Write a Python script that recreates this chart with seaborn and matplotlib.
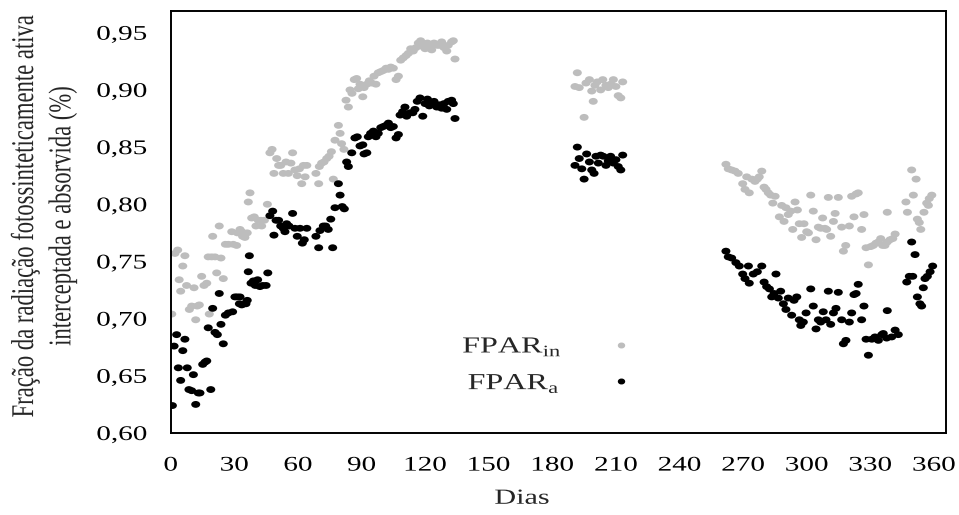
import matplotlib
matplotlib.use("Agg")
import matplotlib.pyplot as plt
import numpy as np
import pandas as pd
import seaborn as sns
from matplotlib.path import Path
from matplotlib.lines import Line2D
from matplotlib.patheffects import AbstractPathEffect
from matplotlib.transforms import Affine2D

# ---------------- dados ----------------
# FPAR interceptada (FPARin)
dias_in = [
    0.5, 2.0, 3.3, 4.0, 4.7, 5.7, 6.7, 7.5, 8.8, 9.9, 11.0, 11.8, 12.5, 13.5, 14.6, 15.7,
    17.0, 17.7, 18.2, 19.3, 19.8, 20.9, 21.7, 22.9, 23.7, 24.8, 25.8, 27.2, 28.8, 29.5,
    31.1, 31.4, 32.7, 33.5, 33.9, 35.0, 36.1, 36.6, 37.4, 38.2, 39.4, 40.2, 41.3, 42.5,
    42.9, 44.2, 45.6, 46.8, 47.8, 48.7, 50.0, 50.9, 51.9, 53.1, 54.4, 55.5, 56.7, 57.5,
    58.6, 59.7, 60.7, 61.8, 62.6, 63.4, 64.2, 68.5, 69.8, 70.1, 71.2, 72.3, 73.6, 74.7,
    75.8, 76.7, 77.5, 79.1, 79.9, 80.6, 81.7,
    82.7, 83.8, 84.6, 85.5, 86.6, 87.7, 88.5, 89.3, 90.6, 91.2, 92.5, 93.7, 94.8, 95.9,
    96.8, 97.9, 99.1, 100.3, 101.6, 102.7, 103.8, 105.0, 106.3, 107.4, 108.5, 109.7,
    111.0, 112.1, 113.2, 114.4, 115.7, 116.8, 117.9, 118.9, 120.0, 121.1, 122.3, 123.1,
    124.2, 125.5, 126.7, 127.8, 128.9, 130.2, 130.9, 132.5, 133.3, 134.1,
    190.7, 191.8, 192.7, 195.0, 195.9, 197.5, 198.6, 199.3, 200.1, 201.2, 202.8, 203.8,
    205.3, 206.4, 207.5, 208.8, 210.0, 211.1, 212.3, 213.2,
    261.9, 263.0, 264.6, 266.2, 267.7, 269.8, 270.9, 271.7, 272.9, 274.1, 275.6, 276.7,
    277.6, 278.8, 279.9, 280.8, 281.9, 283.0, 284.0, 285.1, 287.1, 288.2, 289.3, 290.2,
    291.3, 292.5, 293.4, 294.5, 295.6, 296.5, 297.6, 298.7, 300.0, 300.8, 301.9, 303.1,
    304.4, 305.5, 306.6, 307.5, 308.6, 309.4, 310.2, 311.3, 312.6, 313.4, 314.9, 316.5,
    317.3, 318.4, 320.1, 321.2, 322.3, 323.3, 324.3, 325.9, 327.0, 328.0, 329.1, 330.2,
    331.4, 332.7, 333.8, 334.9, 335.8,
    336.9, 338.0, 339.3, 340.6, 341.7, 338.0, 346.8, 347.5, 349.5, 350.3, 351.6, 352.2,
    353.1, 353.8, 355.3, 356.6, 357.4, 357.8, 359.0,
]
fpar_in = [
    0.704, 0.757, 0.760, 0.734, 0.724, 0.746, 0.755, 0.729, 0.708, 0.711, 0.727, 0.699,
    0.711, 0.712, 0.737, 0.729, 0.731, 0.754, 0.704, 0.754, 0.772, 0.754, 0.740, 0.781,
    0.753, 0.735, 0.765, 0.765, 0.776, 0.765, 0.764, 0.775, 0.778, 0.776, 0.772, 0.771,
    0.775, 0.802, 0.810, 0.788, 0.789, 0.781, 0.786, 0.786, 0.781, 0.786, 0.800, 0.845,
    0.848, 0.827, 0.840, 0.834, 0.834, 0.827, 0.837, 0.827, 0.836, 0.845, 0.830, 0.825,
    0.831, 0.818, 0.834, 0.824, 0.834, 0.827, 0.818, 0.833, 0.836, 0.837, 0.840, 0.842,
    0.846, 0.822, 0.856, 0.869, 0.862, 0.853, 0.848,
    0.891, 0.885, 0.900, 0.897, 0.909, 0.910, 0.901, 0.905, 0.894, 0.902, 0.905, 0.908,
    0.906, 0.912, 0.905, 0.915, 0.916, 0.917, 0.919, 0.918, 0.920, 0.919, 0.909, 0.912,
    0.926, 0.928, 0.930, 0.932, 0.936, 0.934, 0.937, 0.941, 0.943, 0.938, 0.936, 0.941,
    0.939, 0.935, 0.941, 0.939, 0.939, 0.942, 0.937, 0.934, 0.939, 0.942, 0.943, 0.927,
    0.903, 0.915, 0.902, 0.876, 0.906, 0.909, 0.899, 0.890, 0.904, 0.907, 0.900, 0.909,
    0.904, 0.902, 0.905, 0.909, 0.903, 0.895, 0.893, 0.907,
    0.835, 0.831, 0.830, 0.829, 0.827, 0.818, 0.813, 0.824, 0.810, 0.822, 0.820, 0.822,
    0.824, 0.829, 0.815, 0.813, 0.810, 0.808, 0.801, 0.807, 0.789, 0.799, 0.785, 0.797,
    0.791, 0.794, 0.778, 0.802, 0.795, 0.783, 0.771, 0.783, 0.776, 0.775, 0.808, 0.794,
    0.769, 0.780, 0.779, 0.788, 0.779, 0.778, 0.806, 0.772, 0.785, 0.792, 0.806, 0.780,
    0.759, 0.764, 0.781, 0.807, 0.789, 0.809, 0.810, 0.778, 0.791, 0.762, 0.747, 0.763,
    0.764, 0.766, 0.767, 0.770, 0.764,
    0.764, 0.767, 0.769, 0.770, 0.774, 0.793, 0.802, 0.793, 0.830, 0.808, 0.822, 0.787,
    0.784, 0.778, 0.793, 0.801, 0.799, 0.805, 0.808,
]

# FPAR absorvida (FPARa)
dias_a = [
    0.8, 1.6, 2.8, 3.6, 4.7, 5.7, 6.7, 7.8, 8.6, 9.9, 10.7, 11.8, 13.0, 13.8, 15.1, 16.2,
    17.0, 17.7, 18.9, 19.8, 20.9, 22.0, 22.9, 23.7, 24.8, 25.8, 27.2, 29.2, 30.3, 31.4,
    32.4, 32.7, 33.5, 34.6, 35.5, 36.1, 36.6, 37.1, 37.9, 39.0, 39.9, 41.0, 42.1, 43.4,
    45.0, 45.8, 46.8, 48.1, 48.7, 49.7, 50.9, 51.9, 53.1, 53.9, 54.7, 55.8, 57.5, 58.6,
    59.7, 61.0, 62.1, 63.0, 64.2, 68.5, 69.8, 70.4, 72.0, 73.1, 74.3, 75.5, 76.4, 77.5,
    79.1, 79.9, 80.9, 81.9,
    83.0, 83.8, 85.4, 86.9, 88.0, 89.3, 90.6, 91.2, 92.5, 93.2, 94.3, 95.6, 96.8, 97.9,
    99.1, 100.3, 101.6, 102.7, 103.8, 105.0, 106.3, 107.4, 108.2, 109.4, 110.5, 111.3,
    112.9, 114.2, 115.2, 116.3, 117.6, 118.9, 120.0, 121.1, 122.0, 123.1, 124.2, 125.5,
    126.7, 127.8, 128.9, 130.2, 130.9, 132.5, 133.3, 134.1,
    190.7, 191.8, 192.7, 193.9, 195.0, 196.2, 197.5, 198.6, 199.7, 200.6, 201.7, 202.8,
    204.0, 205.3, 206.4, 207.5, 208.8, 210.0, 211.1, 212.3, 213.2,
    261.9, 263.0, 264.6, 266.6, 268.2, 269.8, 270.9, 272.5, 272.9, 274.8, 276.7, 278.8,
    279.9, 281.1, 282.4, 283.5, 284.6, 285.5, 286.6, 287.7, 289.0, 290.2, 291.3, 292.9,
    294.0, 295.3, 296.5, 297.2, 298.4, 299.7, 301.9, 303.1, 304.4, 305.5, 306.6, 307.8,
    309.1, 310.2, 311.3, 312.6, 313.8, 314.9, 316.5, 317.3, 318.5, 320.1, 321.2, 322.3,
    323.3, 324.3, 325.9, 327.0, 328.0, 329.1, 330.7, 332.2, 333.8, 335.4,
    336.1, 337.7, 338.0, 340.1, 341.7, 343.2, 347.2, 348.4, 349.5, 350.0, 351.1, 352.2,
    353.4, 354.2, 355.0, 355.8, 356.9, 358.2, 359.4,
]
fpar_a = [
    0.624, 0.676, 0.686, 0.657, 0.646, 0.672, 0.682, 0.657, 0.638, 0.637, 0.651, 0.625,
    0.635, 0.635, 0.660, 0.662, 0.663, 0.692, 0.638, 0.709, 0.688, 0.686, 0.722, 0.695,
    0.678, 0.703, 0.705, 0.706, 0.719, 0.719, 0.713, 0.719, 0.712, 0.713, 0.713, 0.716,
    0.741, 0.755, 0.731, 0.733, 0.729, 0.734, 0.728, 0.729, 0.729, 0.740, 0.790, 0.794,
    0.773, 0.786, 0.786, 0.781, 0.779, 0.776, 0.783, 0.781, 0.792, 0.779, 0.772, 0.779,
    0.766, 0.769, 0.779, 0.772, 0.762, 0.777, 0.781, 0.781, 0.778, 0.787, 0.762, 0.797,
    0.818, 0.808, 0.798, 0.796,
    0.837, 0.833, 0.845, 0.858, 0.859, 0.851, 0.852, 0.844, 0.845, 0.859, 0.862, 0.864,
    0.859, 0.862, 0.867, 0.868, 0.869, 0.871, 0.867, 0.868, 0.858, 0.861, 0.878, 0.881,
    0.885, 0.877, 0.880, 0.880, 0.883, 0.890, 0.893, 0.877, 0.888, 0.892, 0.886, 0.888,
    0.890, 0.885, 0.887, 0.884, 0.888, 0.883, 0.890, 0.891, 0.888, 0.875,
    0.834, 0.850, 0.840, 0.831, 0.822, 0.844, 0.837, 0.830, 0.827, 0.842, 0.836, 0.843,
    0.842, 0.834, 0.838, 0.842, 0.836, 0.839, 0.833, 0.830, 0.843,
    0.759, 0.754, 0.753, 0.749, 0.746, 0.739, 0.735, 0.746, 0.731, 0.739, 0.741, 0.746,
    0.732, 0.728, 0.726, 0.719, 0.722, 0.739, 0.718, 0.724, 0.713, 0.708, 0.718, 0.703,
    0.716, 0.719, 0.699, 0.694, 0.697, 0.705, 0.726, 0.711, 0.691, 0.699, 0.697, 0.706,
    0.699, 0.724, 0.695, 0.705, 0.709, 0.723, 0.699, 0.678, 0.681, 0.697, 0.705, 0.721,
    0.722, 0.730, 0.699, 0.711, 0.682, 0.668, 0.682, 0.684, 0.681, 0.686,
    0.687, 0.683, 0.707, 0.684, 0.690, 0.686, 0.732, 0.737, 0.767, 0.737, 0.756, 0.719,
    0.713, 0.711, 0.727, 0.735, 0.737, 0.741, 0.746,
]

rotulos = ["FPAR$_\\mathregular{in}$", "FPAR$_\\mathregular{a}$"]
cores = ["#bdbdbd", "#000000"]

x_ticks = list(range(0, 361, 30))
y_ticks = [0.60, 0.65, 0.70, 0.75, 0.80, 0.85, 0.90, 0.95]
y_tick_labels = ["0,60", "0,65", "0,70", "0,75", "0,80", "0,85", "0,90", "0,95"]


class WideText(AbstractPathEffect):
    """Draws glyph outlines widened horizontally about a chosen anchor."""

    def __init__(self, sx=1.4, anchor="center"):
        super().__init__()
        self.sx = sx
        self.anchor = anchor

    def draw_path(self, renderer, gc, tpath, affine, rgbFace=None):
        if len(tpath.vertices) == 0:
            return
        ext = tpath.transformed(affine).get_extents()
        if self.anchor == "left":
            x0 = ext.x0
        elif self.anchor == "right":
            x0 = ext.x1
        else:
            x0 = 0.5 * (ext.x0 + ext.x1)
        widen = Affine2D().translate(-x0, 0).scale(self.sx, 1.0).translate(x0, 0)
        renderer.draw_path(gc, tpath, affine + widen, rgbFace)


df = pd.concat([
    pd.DataFrame({"Dias": dias_in, "FPAR": fpar_in, "serie": rotulos[0]}),
    pd.DataFrame({"Dias": dias_a, "FPAR": fpar_a, "serie": rotulos[1]}),
], ignore_index=True)

sns.set_style("white")
plt.rcParams["font.family"] = ["Liberation Serif", "DejaVu Serif"]
plt.rcParams["mathtext.fontset"] = "custom"
plt.rcParams["mathtext.rm"] = "Liberation Serif"

# slightly flattened dot used for every point
dot = Path.unit_circle().transformed(Affine2D().scale(1.0, 0.76))

fig = plt.figure(figsize=(9.59, 5.15), dpi=100)
ax = fig.add_axes([170.7 / 959, 1 - 433 / 515, (946 - 170.7) / 959, (433 - 11) / 515])

sns.scatterplot(
    data=df, x="Dias", y="FPAR", hue="serie", hue_order=rotulos,
    palette=dict(zip(rotulos, cores)), marker=dot, s=42, linewidth=0,
    edgecolor="none", legend=False, ax=ax,
)

ax.set_xlim(0, 365.7)
ax.set_ylim(0.60, 0.969)
ax.set_xticks(x_ticks)
ax.set_xticklabels([str(v) for v in x_ticks])
ax.set_yticks(y_ticks)
ax.set_yticklabels(y_tick_labels)
ax.tick_params(axis="both", direction="out", length=5, width=1.3, color="black",
               labelsize=15, labelcolor="black")
ax.tick_params(axis="x", pad=12)
ax.tick_params(axis="y", pad=12)

for side in ["left", "bottom", "right", "top"]:
    ax.spines[side].set_visible(True)
    ax.spines[side].set_color("black")
    ax.spines[side].set_linewidth(1.4)

ax.set_xlabel("Dias", fontsize=15.5, va="center")
ax.xaxis.set_label_coords(0.453, -0.157)
ax.set_ylabel("Fração da radiação fotossinteticamente ativa\ninterceptada e absorvida (%)",
              fontsize=16.3, va="center", linespacing=2.0)
ax.yaxis.set_label_coords(-0.1634, 0.514)

handles = [
    Line2D([], [], linestyle="none", marker=dot, markersize=4.3, color=cores[0]),
    Line2D([], [], linestyle="none", marker=dot, markersize=4.3, color=cores[1]),
]
leg = ax.legend(handles, rotulos, loc="center left", bbox_to_anchor=(0.3615, 0.16),
                bbox_transform=ax.transAxes, frameon=False, markerfirst=False,
                borderpad=0, handlelength=1.0, handletextpad=3.3, labelspacing=0.6,
                fontsize=16.5)

for t in ax.get_xticklabels():
    t.set_path_effects([WideText(anchor="center")])
for t in ax.get_yticklabels():
    t.set_path_effects([WideText(anchor="right")])
ax.xaxis.label.set_path_effects([WideText(anchor="center")])
ax.yaxis.label.set_path_effects([WideText(anchor="center")])
for t in leg.get_texts():
    t.set_path_effects([WideText(anchor="left")])

fig.savefig("out.png", dpi=100)
